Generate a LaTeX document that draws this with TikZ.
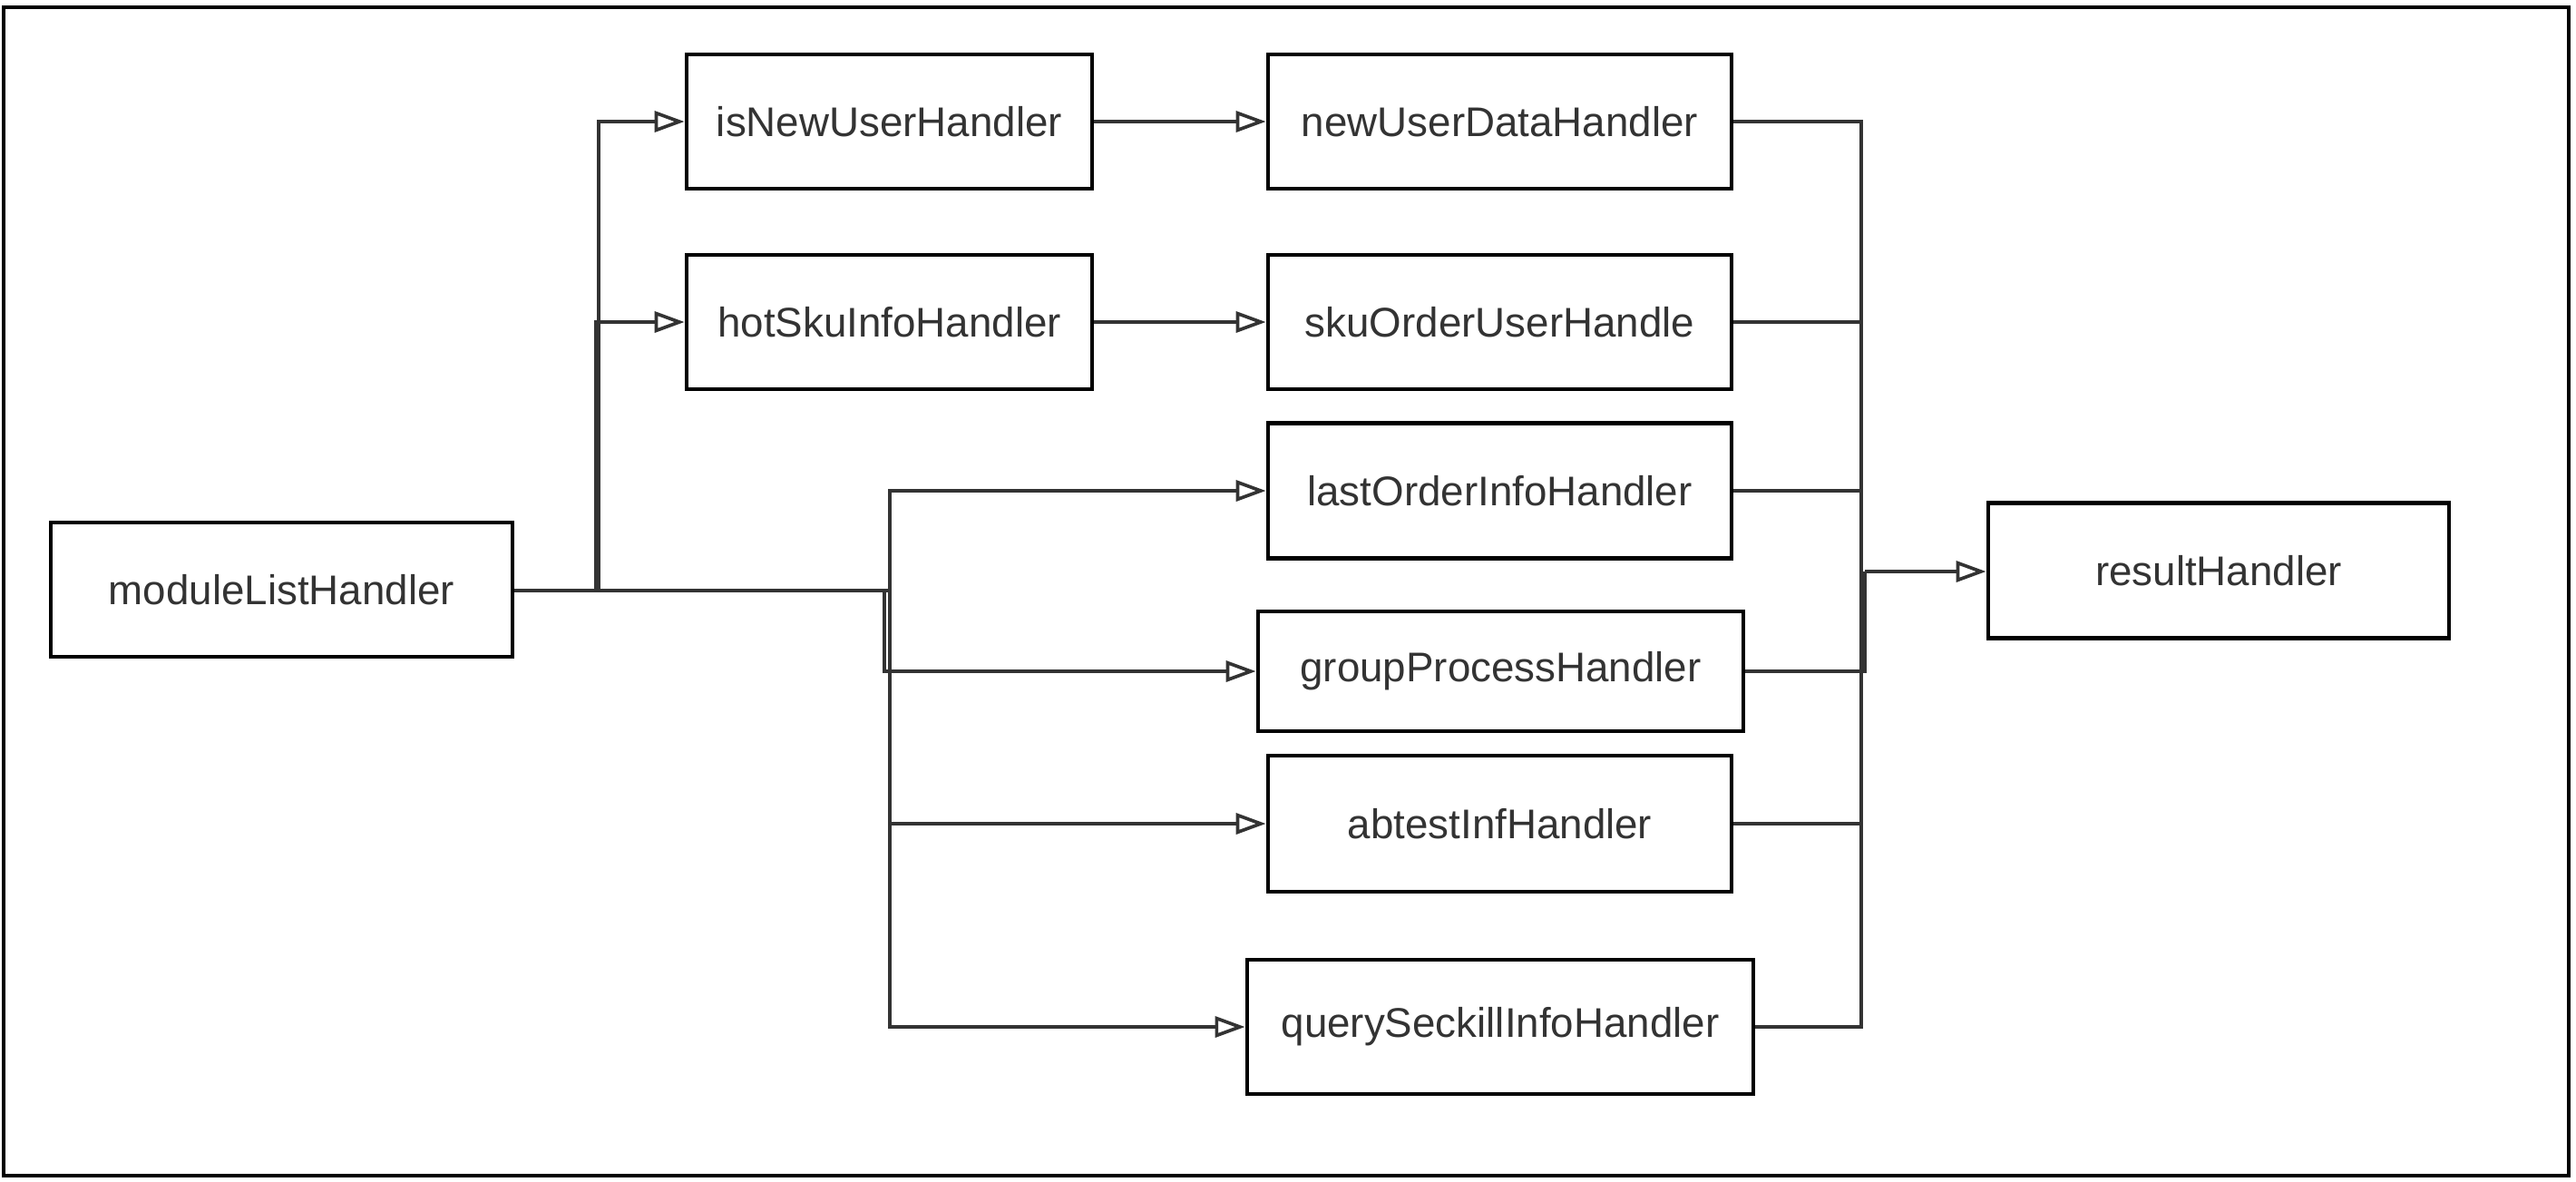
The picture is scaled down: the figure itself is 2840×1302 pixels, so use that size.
\documentclass[tikz,border=0pt]{standalone}
\usepackage{fontspec}
\setmainfont{Liberation Sans}
\usetikzlibrary{arrows.meta}
\definecolor{txt}{HTML}{333333}
\definecolor{ln}{HTML}{333333}
\begin{document}
\begin{tikzpicture}[x=0.01cm,y=-0.01cm,
  hbox/.style={draw=black, line width=1.3pt, inner sep=0pt, minimum height=1.48cm,
    text=txt, font=\fontsize{13}{15}\selectfont},
  conn/.style={draw=ln, line width=1.05pt},
  arr/.style={conn, -{Triangle[open, length=3.3mm, width=2.3mm, line width=1.05pt]}}]
\useasboundingbox (0,0) rectangle (2840,1302);
\draw[line width=1.3pt, black] (4,8) rectangle (2832,1296);

\node[hbox, minimum width=5.09cm] (mod) at (310.5,650) {moduleListHandler};
\node[hbox, minimum width=4.47cm] (isnew) at (980.5,134) {isNewUserHandler};
\node[hbox, minimum width=5.11cm] (newdata) at (1653.5,134) {newUserDataHandler};
\node[hbox, minimum width=4.47cm] (hotsku) at (980.5,355) {hotSkuInfoHandler};
\node[hbox, minimum width=5.11cm] (skuorder) at (1653.5,355) {skuOrderUserHandle};
\node[hbox, minimum width=5.11cm, minimum height=1.49cm] (lastorder) at (1653.5,541) {lastOrderInfoHandler};
\node[hbox, minimum width=5.35cm, minimum height=1.32cm] (group) at (1654.5,740) {groupProcessHandler};
\node[hbox, minimum width=5.11cm, minimum height=1.50cm] (abtest) at (1653.5,908) {abtestInfHandler};
\node[hbox, minimum width=5.58cm] (query) at (1654,1132) {querySeckillInfoHandler};
\node[hbox, minimum width=5.08cm, minimum height=1.49cm] (result) at (2446,629) {resultHandler};

% left junctions
\coordinate (j1) at (660,651);
\coordinate (j1b) at (657,651);
\coordinate (j2) at (981,651);
\coordinate (j2b) at (975,651);
\draw[arr] (mod.east |- j1) -- (j1) |- (isnew.west);
\draw[arr] (mod.east |- j1) -- (j1b) |- (hotsku.west);
\draw[conn] (mod.east |- j1) -- (j2);
\draw[arr] (j2) |- (lastorder.west);
\draw[arr] (j2b) |- (group.west);
\draw[arr] (j2) |- (abtest.west);
\draw[arr] (j2) |- (query.west);

% middle arrows
\draw[arr] (isnew.east) -- (newdata.west);
\draw[arr] (hotsku.east) -- (skuorder.west);

% right junction
\coordinate (r) at (2052,630);
\coordinate (rb) at (2056,630);
\draw[conn] (newdata.east) -| (r);
\draw[conn] (skuorder.east) -| (r);
\draw[conn] (lastorder.east) -| (r);
\draw[conn] (group.east) -| (rb);
\draw[conn] (abtest.east) -| (r);
\draw[conn] (query.east) -| (r);
\draw[arr] (rb) -- (result.west |- r);
\end{tikzpicture}
\end{document}
